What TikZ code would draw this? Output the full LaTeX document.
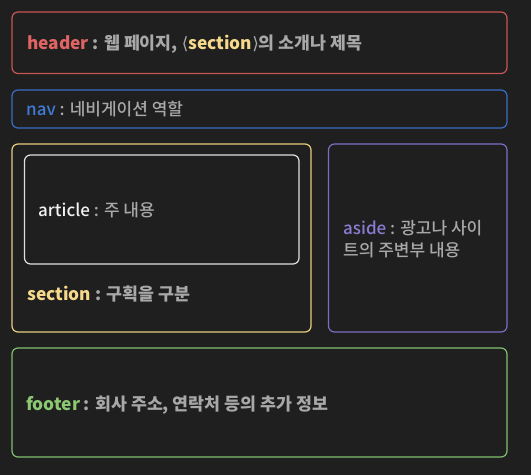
\documentclass[tikz,border=0pt]{standalone}
\usepackage{fontspec}
\setmainfont{Noto Sans CJK KR Medium}
\newfontfamily\cjkfam{Noto Sans CJK KR}
\newfontfamily\symfont{DejaVu Sans}
\usetikzlibrary{positioning}
\definecolor{bg}{HTML}{1F1F1F}
\definecolor{txtgray}{HTML}{A8A8A8}
\definecolor{redT}{HTML}{E06464}
\definecolor{redB}{HTML}{C85656}
\definecolor{blueT}{HTML}{3F7CD6}
\definecolor{blueB}{HTML}{3A6EC6}
\definecolor{yelT}{HTML}{F6D98A}
\definecolor{yelB}{HTML}{E6CD82}
\definecolor{purT}{HTML}{8A7CD2}
\definecolor{purB}{HTML}{7D6CC2}
\definecolor{grnT}{HTML}{8CC872}
\definecolor{grnB}{HTML}{80C06C}
\definecolor{whtT}{HTML}{F2F2F2}
\definecolor{whtB}{HTML}{E0E0E0}
\tikzset{
  box/.style={rounded corners=6pt, line width=1.2pt},
  lbl/.style={anchor=base west, inner sep=0pt, font=\fontsize{17}{22}\selectfont, text=txtgray},
  blbl/.style={lbl, font=\fontsize{17.3}{22}\selectfont\cjkfam\bfseries},
}
\begin{document}
\begin{tikzpicture}[x=1pt,y=-1pt]
\fill[bg] (0,0) rectangle (531,475);
\useasboundingbox (0,0) rectangle (531,475);
% boxes
\draw[box, redB] (12,12) rectangle (507,73.5) coordinate (hdr);
\draw[box, blueB] (12,90) rectangle (507,128) coordinate (nav);
\draw[box, yelB] (12,144) rectangle (311,332) coordinate (sec);
\draw[box, whtB] (24.5,155) rectangle (299,264) coordinate (art);
\draw[box, purB] (328.5,144) rectangle (507,332) coordinate (asd);
\draw[box, grnB] (12,348) rectangle (507,457) coordinate (ftr);
% labels
\node[blbl] (hdrT) at (27,49.5)
  {\textcolor{redT}{header} : 웹 페이지, {\symfont\mdseries\fontsize{17}{17}\selectfont ⟨}\textcolor{yelT}{section}{\symfont\mdseries\fontsize{17}{17}\selectfont ⟩}의 소개나 제목};
\node[lbl] (navT) at (26,115.5)
  {\textcolor{blueT}{nav} : 네비게이션 역할};
\node[lbl] (artT) at (38,216.5)
  {\textcolor{whtT}{article} : 주 내용};
\node[blbl] (secT) at (27,300.5)
  {\textcolor{yelT}{section} : 구획을 구분};
\node[lbl] (asdT) at (343,234.5)
  {\textcolor{purT}{aside} : 광고나 사이};
\node[lbl] (asdT2) at (343,256.5)
  {트의 주변부 내용};
\node[blbl] (ftrT) at (26,410.5)
  {\textcolor{grnT}{footer} : 회사 주소, 연락처 등의 추가 정보};
\end{tikzpicture}
\end{document}
